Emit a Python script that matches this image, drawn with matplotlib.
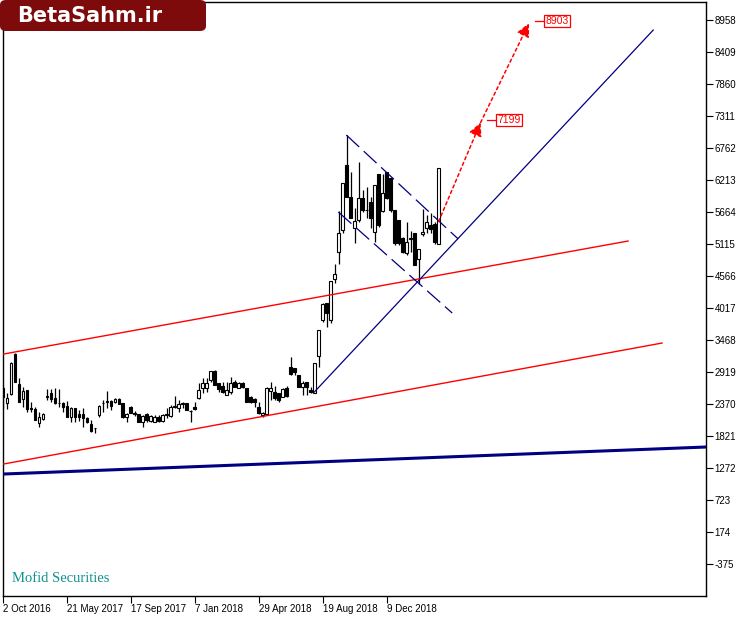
import matplotlib
matplotlib.use("Agg")
import matplotlib.pyplot as plt
from matplotlib.patches import FancyBboxPatch

# weekly candles (bar index 0..109)
opens = [2644, 2387, 2542, 3228, 2713, 2456, 2610, 2301, 2284, 2044,
         2113, 2490, 2559, 2473, 2390, 2387, 2336, 2147, 2301, 2198,
         2198, 2130, 2027, 1958, 2181, 2380, 2404, 2421, 2404, 2456,
         2387, 2147, 2319, 2216, 2198, 2061, 2198, 2078, 2061, 2147,
         2078, 2181, 2164, 2319, 2301, 2370, 2387, 2250, 2319, 2473,
         2644, 2644, 2782, 2936, 2730, 2679, 2524, 2576, 2747, 2644,
         2730, 2644, 2490, 2456, 2319, 2181, 2198, 2593, 2576, 2559,
         2490, 2644, 3005, 2988, 2867, 2662, 2747, 2610, 2559, 3193,
         3811, 4103, 3811, 4514, 4978, 5355, 6470, 5921, 5389, 5527,
         5904, 5700, 5835, 5321, 6316, 5681, 6350, 6247, 5698, 5527,
         5218, 4961, 5201, 5304, 4858, 5286, 5389, 5441, 5458, 5115]
highs = [2679, 2559, 3090, 3245, 2816, 2662, 2615, 2404, 2319, 2233,
         2216, 2627, 2627, 2644, 2627, 2404, 2421, 2319, 2310, 2267,
         2301, 2140, 2095, 1960, 2353, 2439, 2593, 2439, 2473, 2473,
         2387, 2216, 2336, 2250, 2198, 2181, 2216, 2181, 2181, 2181,
         2198, 2301, 2353, 2507, 2439, 2404, 2390, 2260, 2404, 2730,
         2816, 2816, 2936, 2953, 2730, 2747, 2747, 2833, 2782, 2747,
         2747, 2650, 2500, 2473, 2404, 2233, 2662, 2747, 2679, 2559,
         2644, 2679, 3176, 2990, 2870, 2765, 2750, 2662, 3080, 3640,
         4103, 4103, 4480, 4772, 5681, 6161, 6985, 6350, 5733, 6522,
         6041, 6093, 5921, 6127, 6316, 6316, 6350, 6247, 5698, 5527,
         5235, 5492, 5338, 5304, 5029, 5715, 5612, 5647, 5492, 6419]
lows = [2301, 2284, 2524, 2740, 2404, 2319, 2233, 2233, 2090, 1975,
        2095, 2439, 2404, 2370, 2319, 2233, 2147, 2061, 2061, 2078,
        1975, 2044, 1890, 1873, 2147, 2233, 2301, 2267, 2387, 2370,
        2130, 2061, 2216, 2164, 2061, 1975, 2061, 2061, 2055, 2061,
        2061, 2130, 2147, 2301, 2233, 2301, 2267, 2061, 2267, 2456,
        2559, 2576, 2747, 2696, 2576, 2559, 2524, 2542, 2662, 2644,
        2644, 2404, 2387, 2319, 2198, 2147, 2181, 2439, 2439, 2404,
        2490, 2490, 2867, 2867, 2662, 2524, 2524, 2559, 2559, 3005,
        3777, 3691, 3760, 4446, 4772, 5304, 5921, 5561, 5132, 5492,
        5664, 5561, 5389, 5149, 5406, 5664, 5887, 5664, 5098, 5098,
        4961, 4926, 4978, 4755, 4429, 5252, 5304, 5304, 5115, 5115]
closes = [2490, 2473, 3073, 2747, 2404, 2593, 2284, 2284, 2095, 2147,
          2198, 2500, 2456, 2387, 2380, 2319, 2147, 2301, 2147, 2147,
          2130, 2061, 1907, 1950, 2336, 2390, 2410, 2330, 2456, 2370,
          2147, 2198, 2216, 2198, 2061, 2164, 2095, 2164, 2147, 2078,
          2181, 2190, 2319, 2325, 2370, 2380, 2267, 2245, 2284, 2610,
          2730, 2730, 2936, 2696, 2627, 2576, 2610, 2730, 2662, 2730,
          2662, 2404, 2404, 2404, 2216, 2216, 2644, 2644, 2473, 2439,
          2627, 2507, 2885, 2919, 2662, 2730, 2662, 2576, 3073, 3640,
          4086, 3931, 4480, 4600, 5304, 6161, 5921, 5561, 5510, 5904,
          5698, 5690, 5561, 6127, 5441, 5990, 5904, 5698, 5132, 5132,
          4978, 5149, 5210, 4755, 5029, 5321, 5492, 5372, 5149, 6419]

tick_bars = [0, 16, 32, 48, 64, 80, 96]
tick_labels = ["2 Oct 2016", "21 May 2017", "17 Sep 2017", "7 Jan 2018",
               "29 Apr 2018", "19 Aug 2018", "9 Dec 2018"]
price_ticks = list(range(-375, 8959, 549))

# trend lines: (bar, price) end points
red_upper = ([0.2, 156.4], [3228, 5166])
red_lower = ([0.2, 164.9], [1341, 3416])
navy_base = ([0.2, 175.9], [1169, 1632])
blue_trend = ([77.9, 162.7], [2576, 8786])
flag_upper = ([85.9, 113.9], [6985, 5201])
flag_lower = ([83.9, 112.4], [5664, 3931])
target_bars = [109, 119.5, 131.6]
target_prices = [5500, 7199, 8903]

W, H = 749, 617
fig = plt.figure(figsize=(W / 100, H / 100), dpi=100)
ax = fig.add_axes([3 / W, 21 / H, 703 / W, 594 / H])
ax.set_xlim(0.1, 175.9)
ax.set_ylim(-924, 9267)

n = len(opens)
xs = list(range(n))
ax.vlines(xs, lows, highs, color="black", lw=0.9, zorder=2)
bottoms = [min(o, c) for o, c in zip(opens, closes)]
heights = [max(abs(c - o), 12) for o, c in zip(opens, closes)]
colors = ["white" if c >= o else "black" for o, c in zip(opens, closes)]
ax.bar(xs, heights, bottom=bottoms, width=0.7, color=colors,
       edgecolor="black", linewidth=0.8, zorder=2)

red = "#ff0000"
navy = "#000080"
ax.plot(*red_upper, color=red, lw=1.0, zorder=3)
ax.plot(*red_lower, color=red, lw=1.0, zorder=3)
ax.plot(*navy_base, color=navy, lw=2.2, zorder=3)
ax.plot(*blue_trend, color=navy, lw=0.9, zorder=3)
ax.plot(*flag_upper, color=navy, lw=0.9, dashes=(14, 5), zorder=3)
ax.plot(*flag_lower, color=navy, lw=0.9, dashes=(14, 5), zorder=3)

# red dotted projection arrows with price boxes
for i in range(1, len(target_bars)):
    ax.annotate("", xy=(target_bars[i], target_prices[i]),
                xytext=(target_bars[i - 1], target_prices[i - 1]),
                arrowprops=dict(arrowstyle="-|>,head_length=0.8,head_width=0.4",
                                color=red, lw=1.1, linestyle=(0, (2, 2)),
                                shrinkA=0, shrinkB=0), zorder=4)
    ax.plot([target_bars[i] + 1.5, target_bars[i] + 4.0],
            [target_prices[i] + 40, target_prices[i] + 40], color=red, lw=0.9, zorder=4)
    ax.text(target_bars[i] + 4.1, target_prices[i] + 40, str(target_prices[i]),
            color=red, fontsize=7.5, family="Liberation Sans", ha="left", va="center",
            bbox=dict(boxstyle="square,pad=0.12", fc="white", ec=red, lw=0.9), zorder=5)

ax.yaxis.tick_right()
ax.set_yticks(price_ticks)
ax.set_yticklabels([str(v) for v in price_ticks])
ax.set_xticks(tick_bars)
ax.set_xticklabels(tick_labels, ha="left")
ax.tick_params(axis="both", direction="out", length=5, width=0.8, color="black",
               labelsize=7, pad=1)
for lab in ax.get_xticklabels() + ax.get_yticklabels():
    lab.set_family("Liberation Sans")
for sp in ax.spines.values():
    sp.set_linewidth(1.0)
    sp.set_color("black")

ax.text(9 / 703, (596 - 582) / 594, "Mofid Securities", transform=ax.transAxes,
        color="#119090", fontsize=10.5, family="Liberation Serif", ha="left", va="baseline")

# logo box top-left
logo = FancyBboxPatch((0, 1 - 31 / H), 206 / W, 31 / H,
                      boxstyle="round,pad=0,rounding_size=0.008",
                      transform=fig.transFigure, fc="#7d0b0b", ec="none", zorder=10)
fig.add_artist(logo)
fig.text(17 / W, 1 - 16 / H, "BetaSahm.ir", color="white", fontsize=15,
         fontweight="bold", family="DejaVu Sans", ha="left", va="center", zorder=11)

fig.savefig("out.png", dpi=100)
